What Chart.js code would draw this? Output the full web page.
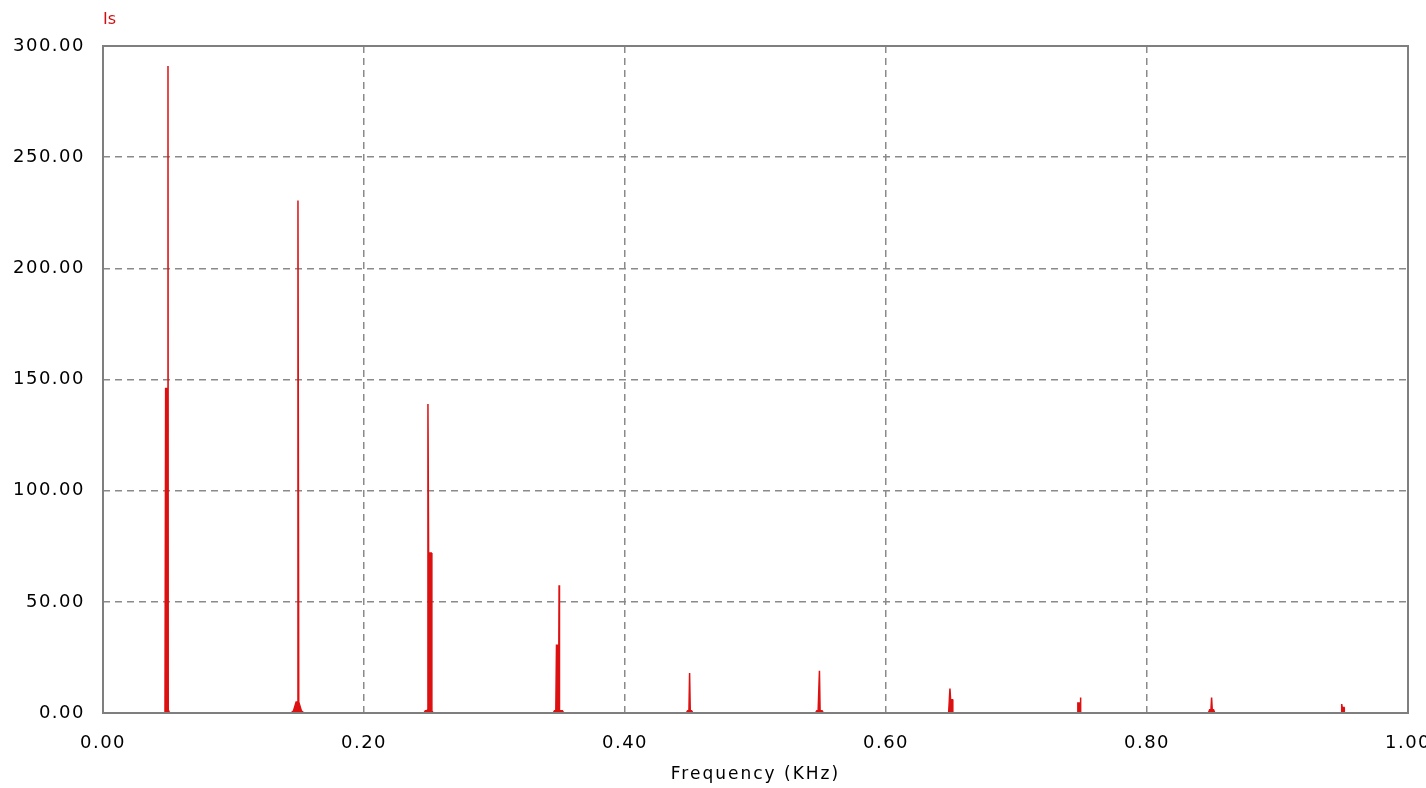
<!DOCTYPE html>
<html lang="en">
<head>
  <meta charset="UTF-8" />
  <title>Is spectrum</title>
  <script src="https://cdn.jsdelivr.net/npm/chart.js"></script>
  <style>
    body {
      margin: 0;
      padding: 0;
      background: #fff;
    }
    .wrap {
      position: relative;
      width: 1426px;
      height: 788px;
    }
  </style>
</head>
<body>
  <div class="wrap">
    <canvas id="spectrum"></canvas>
  </div>

  <script>
    // frequency bins (kHz), grouped by harmonic
    const freq = [
      0.000,
      0.047, 0.0475, 0.048, 0.0496, 0.0498, 0.050, 0.051,
      0.144, 0.146, 0.148, 0.149, 0.1494, 0.150, 0.152, 0.154,
      0.246, 0.247, 0.248, 0.2488, 0.249, 0.2495, 0.2515, 0.252, 0.253,
      0.345, 0.346, 0.347, 0.3475, 0.3493, 0.3495, 0.3498, 0.352, 0.353,
      0.447, 0.448, 0.449, 0.4495, 0.450, 0.451, 0.452,
      0.546, 0.547, 0.548, 0.549, 0.5495, 0.551, 0.552,
      0.648, 0.649, 0.6495, 0.651, 0.6512,
      0.7465, 0.747, 0.7488, 0.749, 0.7493,
      0.847, 0.848, 0.849, 0.8495, 0.850, 0.851, 0.852,
      0.949, 0.9492, 0.9496, 0.951, 0.9512,
      1.000
    ];

    // magnitude of Is at each bin
    const magnitude = [
      0,
      0, 1.5, 146, 146, 291, 1.5, 0,
      0, 1, 5, 5, 230.5, 5, 1, 0,
      0, 1, 1, 1.5, 139, 72, 72, 1, 0,
      0, 1, 1, 30.5, 30.5, 57.5, 1, 1, 0,
      0, 1, 1, 18, 1, 1, 0,
      0, 1, 1, 19, 1, 1, 0,
      0, 11, 6, 6, 0,
      0, 4.5, 4.5, 7, 0,
      0, 1.5, 1.5, 7, 1.5, 1.5, 0,
      0, 4, 2.5, 2.5, 0,
      0
    ];

    const xTicks = [0, 0.2, 0.4, 0.6, 0.8, 1.0];
    const yTicks = [0, 50, 100, 150, 200, 250, 300];

    const points = freq.map((f, i) => ({ x: f, y: magnitude[i] }));

    // wider letter spacing like the original program's font
    const spacing = {
      id: 'spacing',
      beforeDraw(chart) {
        chart.ctx.letterSpacing = '1.5px';
      }
    };

    // box around the plot, the "Is" label and the axis title
    const frame = {
      id: 'frame',
      afterDraw(chart) {
        const { ctx, chartArea: a } = chart;
        ctx.save();
        ctx.strokeStyle = '#7f7f7f';
        ctx.lineWidth = 2;
        ctx.strokeRect(a.left, a.top, a.right - a.left, a.bottom - a.top);
        ctx.textBaseline = 'middle';
        ctx.fillStyle = '#cc1111';
        ctx.letterSpacing = '0px';
        ctx.font = '16px "DejaVu Sans"';
        ctx.textAlign = 'left';
        ctx.fillText('Is', a.left, 20);
        ctx.fillStyle = '#000';
        ctx.letterSpacing = '2px';
        ctx.font = '17px "DejaVu Sans"';
        ctx.textAlign = 'center';
        ctx.fillText('Frequency (KHz)', (a.left + a.right) / 2, 775);
        ctx.restore();
      }
    };

    const ctx = document.getElementById('spectrum').getContext('2d');
    new Chart(ctx, {
      type: 'scatter',
      data: {
        datasets: [{
          label: 'Is',
          data: points,
          showLine: true,
          borderColor: '#dd1111',
          backgroundColor: '#dd1111',
          borderWidth: 1.5,
          pointRadius: 0,
          fill: 'origin'
        }]
      },
      options: {
        responsive: true,
        maintainAspectRatio: false,
        animation: false,
        layout: { padding: { top: 46, right: 18, left: 0, bottom: 0 } },
        plugins: {
          legend: { display: false },
          tooltip: { enabled: false }
        },
        scales: {
          x: {
            type: 'linear',
            min: 0,
            max: 1,
            afterBuildTicks: s => { s.ticks = xTicks.map(v => ({ value: v })); },
            afterFit: s => {
              s.height = 75;
              s.paddingLeft = 0;
              s.paddingRight = 0;
            },
            ticks: {
              color: '#000',
              font: { family: 'DejaVu Sans', size: 18 },
              padding: 20,
              maxRotation: 0,
              callback: v => Number(v).toFixed(2)
            },
            grid: { color: '#8a8a8a', lineWidth: 1.5, drawTicks: false },
            border: { display: false, dash: [7, 5] }
          },
          y: {
            min: 0,
            max: 300,
            afterBuildTicks: s => { s.ticks = yTicks.map(v => ({ value: v })); },
            afterFit: s => { s.width = 103; },
            ticks: {
              color: '#000',
              font: { family: 'DejaVu Sans', size: 18 },
              padding: 18,
              callback: v => Number(v).toFixed(2)
            },
            grid: { color: '#8a8a8a', lineWidth: 1.5, drawTicks: false },
            border: { display: false, dash: [7, 5] }
          }
        }
      },
      plugins: [spacing, frame]
    });
  </script>
</body>
</html>
